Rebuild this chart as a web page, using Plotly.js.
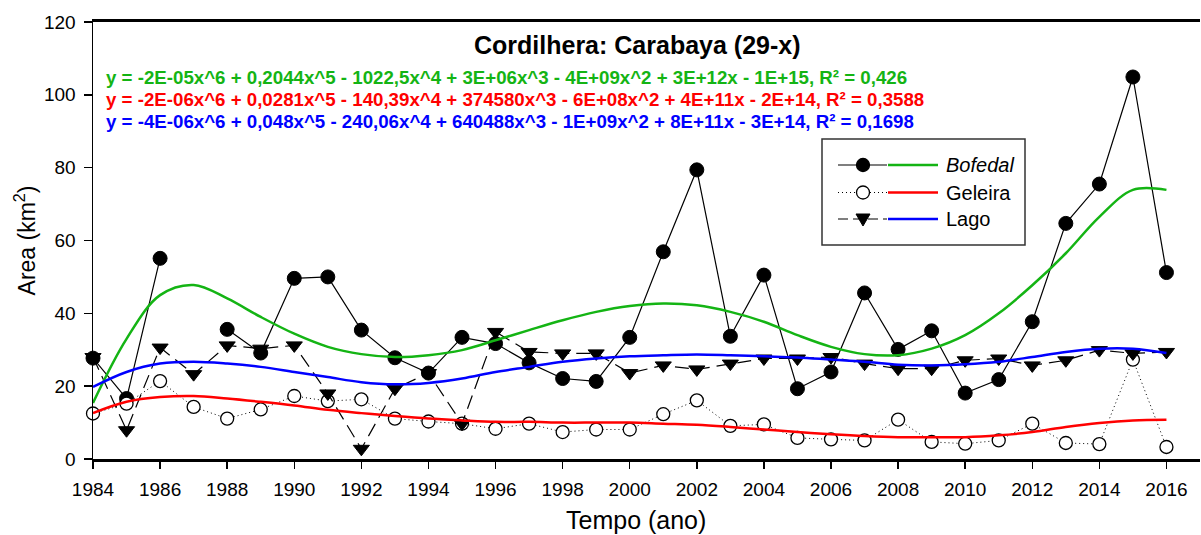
<!DOCTYPE html>
<html>
<head>
<meta charset="utf-8">
<script src="https://cdn.plot.ly/plotly-3.0.1.min.js"></script>
<style>html,body{margin:0;padding:0;background:#fff;}#chart{width:1201px;height:535px;}</style>
</head>
<body>
<div id="chart"></div>
<script>
// ---- data ----
const years = [1984,1985,1986,1987,1988,1989,1990,1991,1992,1993,1994,1995,1996,1997,1998,1999,2000,2001,2002,2003,2004,2005,2006,2007,2008,2009,2010,2011,2012,2013,2014,2015,2016];
const bofedal = [27.7,16.6,55.1,null,35.6,29.1,49.6,50.0,35.4,27.8,23.6,33.4,31.7,26.4,22.1,21.3,33.4,56.9,79.4,33.7,50.5,19.3,23.9,45.6,30.1,35.2,18.1,21.8,37.7,64.7,75.5,104.9,51.2];
const geleira = [12.5,15.2,21.4,14.3,11.1,13.6,17.3,15.9,16.4,11.1,10.3,9.7,8.3,9.7,7.4,8.1,8.1,12.3,16.1,9.1,9.5,5.8,5.4,5.1,10.8,4.7,4.2,5.1,9.7,4.4,4.1,27.3,3.3];
const lago = [28.0,7.9,30.6,23.3,31.2,30.3,31.2,18.0,2.8,19.3,23.6,9.7,34.9,29.4,29.0,29.0,23.6,25.7,24.6,26.2,27.6,27.6,28.0,26.2,24.8,24.8,27.1,27.6,25.7,27.1,29.9,29.0,29.4];
// trend curves, one value per year
const trendBofedal = [15.4,33.0,45.0,47.8,44.1,39.0,34.4,30.8,28.8,28.0,28.5,29.9,32.6,35.4,38.1,40.4,42.0,42.7,42.2,40.4,37.7,34.0,30.8,28.8,28.5,30.3,34.0,40.0,47.7,56.5,66.5,73.9,73.9];
const trendGeleira = [12.6,15.7,17.0,17.3,16.6,15.7,14.7,13.5,12.6,11.8,11.1,10.6,10.2,10.2,10.0,10.0,10.0,9.7,9.4,8.8,8.1,7.4,6.8,6.3,6.0,6.0,6.0,6.5,7.4,8.8,9.9,10.6,10.8];
const trendLago = [19.8,23.9,26.2,26.7,26.2,25.3,23.9,22.5,21.1,20.5,20.9,22.1,23.9,25.3,26.7,27.6,28.2,28.5,28.7,28.5,28.2,27.9,27.3,26.7,25.9,25.7,26.0,26.7,28.0,29.4,30.3,30.3,29.1];
const seriesNames = ['Bofedal','Geleira','Lago'];
const equations = [
  'y = -2E-05x^6 + 0,2044x^5 - 1022,5x^4 + 3E+06x^3 - 4E+09x^2 + 3E+12x - 1E+15, R² = 0,426',
  'y = -2E-06x^6 + 0,0281x^5 - 140,39x^4 + 374580x^3 - 6E+08x^2 + 4E+11x - 2E+14, R² = 0,3588',
  'y = -4E-06x^6 + 0,048x^5 - 240,06x^4 + 640488x^3 - 1E+09x^2 + 8E+11x - 3E+14, R² = 0,1698'
];
const titleText = 'Cordilhera: Carabaya (29-x)';
const xTitle = 'Tempo (ano)';
const yTitle = 'Area (km<sup>2</sup>)';

// ---- style ----
const FONT = 'Liberation Sans, Arial, Helvetica, sans-serif';
const GREEN = '#14b414', RED = '#ff0000', BLUE = '#0000ff';
const W = 1201, H = 535, ML = 93, MR = 1, MT = 22, MB = 76;
const PW = W - ML - MR, PH = H - MT - MB;
const px = x => (x - ML) / PW;
const py = y => (H - MB - y) / PH;

const traces = [
  {x: years, y: bofedal, name: seriesNames[0], mode: 'lines+markers', connectgaps: false, cliponaxis: false,
   line: {color: '#000', width: 1.2}, marker: {symbol: 'circle', size: 14, color: '#000', line: {color: '#000', width: 1}}},
  {x: years, y: geleira, name: seriesNames[1], mode: 'lines+markers', cliponaxis: false,
   line: {color: '#000', width: 1, dash: '1px,3px'}, marker: {symbol: 'circle', size: 13, color: '#fff', line: {color: '#000', width: 1.3}}},
  {x: years, y: lago, name: seriesNames[2], mode: 'lines+markers', cliponaxis: false,
   line: {color: '#000', width: 1.2, dash: '14px,7px'}, marker: {symbol: 'triangle-down', size: 14, color: '#000', line: {color: '#000', width: 1}}},
  {x: years, y: trendBofedal, mode: 'lines', line: {color: GREEN, width: 2.5, shape: 'spline', smoothing: 1}},
  {x: years, y: trendGeleira, mode: 'lines', line: {color: RED, width: 2.5, shape: 'spline', smoothing: 1}},
  {x: years, y: trendLago, mode: 'lines', line: {color: BLUE, width: 2.5, shape: 'spline', smoothing: 1}}
];

// custom legend
const shapes = [];
const annotations = [];
shapes.push({type: 'rect', xref: 'paper', yref: 'paper', x0: px(822), x1: px(1025), y0: py(139), y1: py(245),
  line: {color: '#333', width: 1.5}, fillcolor: 'rgba(255,255,255,1)', layer: 'above'});
const rows = [165, 192.5, 219];
const trendColors = [GREEN, RED, BLUE];
const sampleDash = ['solid', '1px,3px', '10px,5px'];
rows.forEach((ry, i) => {
  shapes.push({type: 'line', xref: 'paper', yref: 'paper', x0: px(838), x1: px(887), y0: py(ry), y1: py(ry),
    line: {color: '#000', width: 1.2, dash: sampleDash[i]}, layer: 'above'});
  shapes.push({type: 'line', xref: 'paper', yref: 'paper', x0: px(888), x1: px(938), y0: py(ry), y1: py(ry),
    line: {color: trendColors[i], width: 2.5}, layer: 'above'});
  const cx = 863, r = 6.5;
  if (i < 2) {
    shapes.push({type: 'circle', xref: 'paper', yref: 'paper', x0: px(cx - r), x1: px(cx + r), y0: py(ry - r), y1: py(ry + r),
      line: {color: '#000', width: 1.3}, fillcolor: i === 0 ? '#000' : '#fff', layer: 'above'});
  } else {
    const p = `M ${px(cx - 7)} ${py(ry - 5)} L ${px(cx + 7)} ${py(ry - 5)} L ${px(cx)} ${py(ry + 7)} Z`;
    shapes.push({type: 'path', xref: 'paper', yref: 'paper', path: p, line: {color: '#000', width: 1}, fillcolor: '#000', layer: 'above'});
  }
  annotations.push({xref: 'paper', yref: 'paper', x: px(944), y: py(ry), xanchor: 'left', yanchor: 'middle', showarrow: false,
    text: i === 0 ? '<i>' + seriesNames[i] + '</i>' : seriesNames[i], font: {family: FONT, size: 20, color: '#000'}});
});

// equations
const eqColors = [GREEN, RED, BLUE];
const eqY = [77, 99, 121];
equations.forEach((t, i) => {
  annotations.push({xref: 'paper', yref: 'paper', x: px(104), y: py(eqY[i]), xanchor: 'left', yanchor: 'middle', showarrow: false,
    text: '<b>' + t + '</b>', font: {family: FONT, size: 18.7, color: eqColors[i]}});
});
// title inside plot
annotations.push({xref: 'paper', yref: 'paper', x: px(637), y: py(45), xanchor: 'center', yanchor: 'middle', showarrow: false,
  text: '<b>' + titleText + '</b>', font: {family: FONT, size: 25, color: '#000'}});
// x axis title
annotations.push({xref: 'paper', yref: 'paper', x: px(636), y: py(520), xanchor: 'center', yanchor: 'middle', showarrow: false,
  text: xTitle, font: {family: FONT, size: 25, color: '#000'}});

const layout = {
  width: W, height: H,
  margin: {l: ML, r: MR, t: MT, b: MB, pad: 0},
  paper_bgcolor: '#fff', plot_bgcolor: '#fff',
  showlegend: false,
  font: {family: FONT, color: '#000'},
  xaxis: {
    range: [1984, 2017], tickmode: 'array', tickvals: years.filter(y => y % 2 === 0),
    ticks: 'outside', ticklen: 7, tickwidth: 1.5, tickcolor: '#000',
    showline: true, linecolor: '#000', linewidth: 3, mirror: true,
    showgrid: false, zeroline: false, ticklabelstandoff: 4,
    tickfont: {family: FONT, size: 19, color: '#000'}
  },
  yaxis: {
    range: [0, 120], tickvals: [0, 20, 40, 60, 80, 100, 120],
    ticks: 'outside', ticklen: 8, tickwidth: 1.5, tickcolor: '#000',
    showline: true, linecolor: '#000', linewidth: 1.5,
    showgrid: false, zeroline: false, ticklabelstandoff: 4,
    tickfont: {family: FONT, size: 19, color: '#000'},
    title: {text: yTitle, font: {family: FONT, size: 23, color: '#000'}, standoff: 2}
  },
  shapes: shapes,
  annotations: annotations
};

Plotly.newPlot('chart', traces, layout, {displayModeBar: false, staticPlot: true});
</script>
</body>
</html>
